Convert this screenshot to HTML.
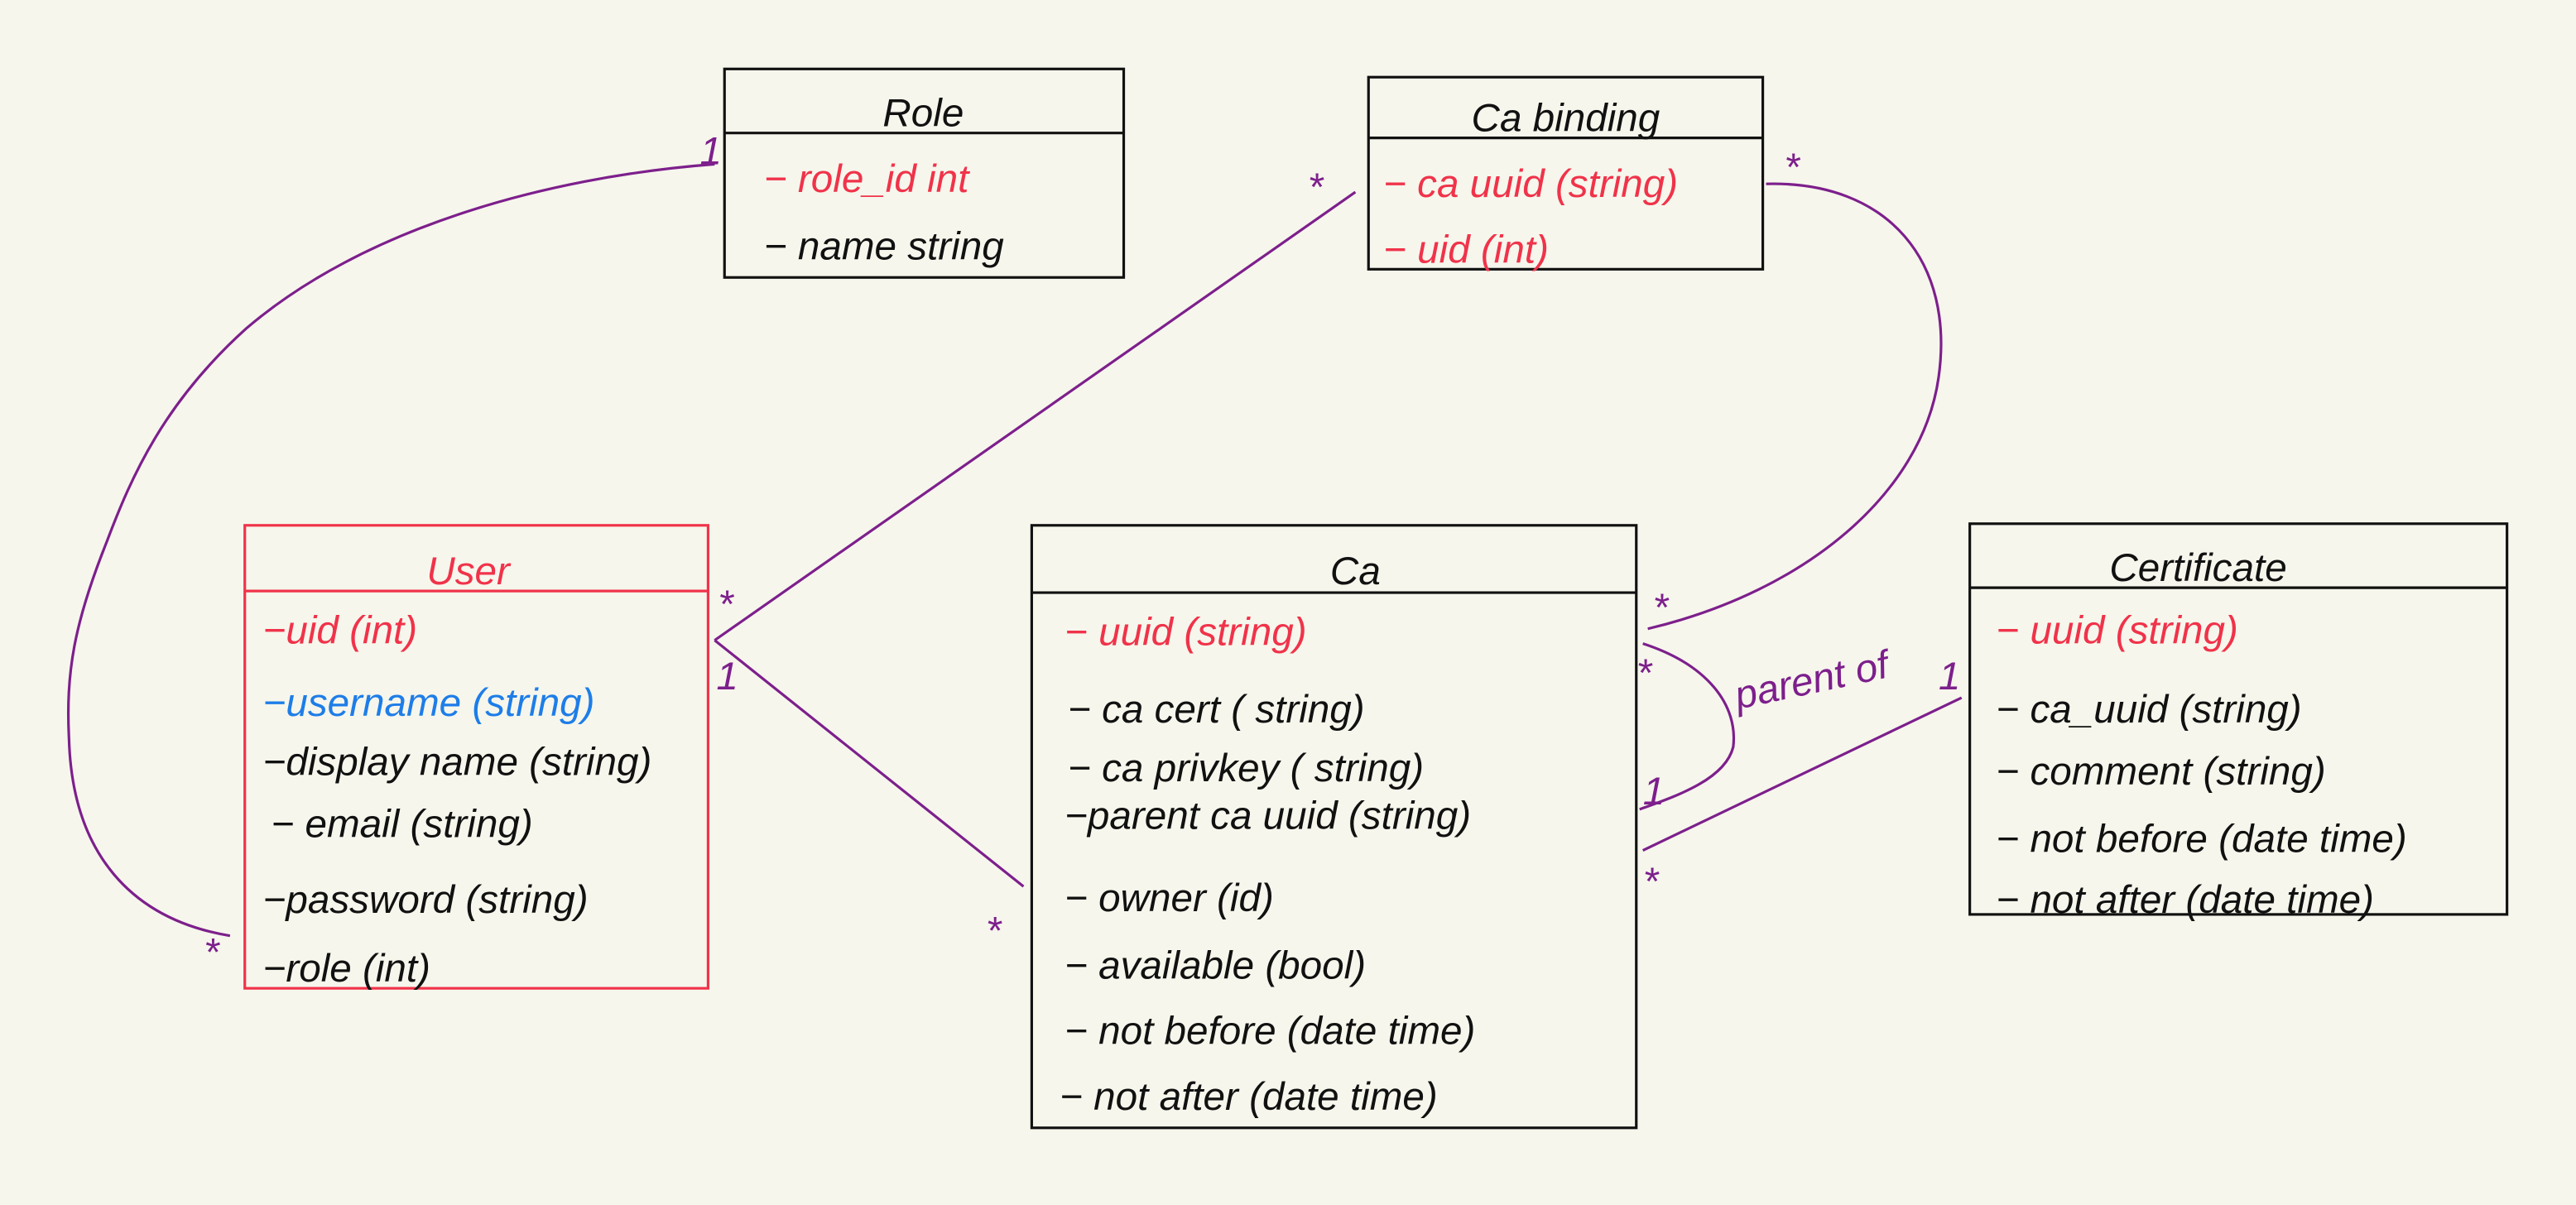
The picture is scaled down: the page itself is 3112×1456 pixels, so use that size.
<!DOCTYPE html>
<html><head><meta charset="utf-8"><style>
html,body{margin:0;padding:0;background:#f6f6ec;}
svg{display:block}
text{font-family:"Liberation Sans",sans-serif;font-style:italic;font-size:24px}
.k{fill:#111}.r{fill:#f0334a}.b{fill:#1e7de8}.p{fill:#7d1f8c}
</style></head><body>
<svg width="3112" height="1456" viewBox="0 0 1568 734" preserveAspectRatio="none" xmlns="http://www.w3.org/2000/svg">
<rect width="1568" height="734" fill="#f6f6ec"/>
<g fill="none" stroke="#111" stroke-width="1.6">
<rect x="441" y="42" width="243" height="127"/><line x1="441" y1="81" x2="684" y2="81"/>
<rect x="833" y="47" width="240" height="117"/><line x1="833" y1="84" x2="1073" y2="84"/>
<rect x="628" y="320" width="368" height="367"/><line x1="628" y1="361" x2="996" y2="361"/>
<rect x="1199" y="319" width="327" height="238"/><line x1="1199" y1="358" x2="1526" y2="358"/>
</g>
<g fill="none" stroke="#f0334a" stroke-width="1.6">
<rect x="149" y="320" width="282" height="282"/><line x1="149" y1="360" x2="431" y2="360"/>
</g>
<g fill="none" stroke="#7d1f8c" stroke-width="1.6">
<path d="M435,100 C330,108 220,140 150,200 C100,245 80,290 65,330 C45,380 40,410 42,450 C44,520 80,560 140,570"/>
<line x1="825" y1="117" x2="435" y2="390"/>
<line x1="435" y1="390" x2="623" y2="540"/>
<path d="M1075,112 C1150,110 1190,160 1180,230 C1170,300 1100,360 1003,383"/>
<path d="M1000,392 C1040,405 1058,430 1055,455 C1050,475 1020,485 998,493"/>
<line x1="1000" y1="518" x2="1194" y2="425"/>
</g>
<text x="562" y="77" text-anchor="middle" class="k" font-size="28">Role</text>
<text x="465" y="117" class="r">− role_id  int</text>
<text x="465" y="158" class="k">− name  string</text>
<text x="953" y="80" text-anchor="middle" class="k" font-size="26">Ca binding</text>
<text x="842" y="120" class="r">− ca uuid (string)</text>
<text x="842" y="160" class="r">− uid   (int)</text>
<text x="285" y="356" text-anchor="middle" class="r" font-size="26">User</text>
<text x="160" y="392" class="r">−uid (int)</text>
<text x="160" y="436" class="b">−username (string)</text>
<text x="160" y="472" class="k">−display name (string)</text>
<text x="165" y="510" class="k">−  email  (string)</text>
<text x="160" y="556" class="k">−password (string)</text>
<text x="160" y="598" class="k">−role   (int)</text>
<text x="825" y="356" text-anchor="middle" class="k" font-size="30">Ca</text>
<text x="648" y="393" class="r">− uuid (string)</text>
<text x="650" y="440" class="k">− ca cert ( string)</text>
<text x="650" y="476" class="k">− ca privkey ( string)</text>
<text x="648" y="505" class="k">−parent ca uuid (string)</text>
<text x="648" y="555" class="k">−  owner  (id)</text>
<text x="648" y="596" class="k">− available   (bool)</text>
<text x="648" y="636" class="k">− not before  (date time)</text>
<text x="645" y="676" class="k">− not after  (date time)</text>
<text x="1338" y="354" text-anchor="middle" class="k" font-size="26">Certificate</text>
<text x="1215" y="392" class="r">− uuid (string)</text>
<text x="1215" y="440" class="k">− ca_uuid (string)</text>
<text x="1215" y="478" class="k">−  comment  (string)</text>
<text x="1215" y="519" class="k" font-size="22">− not before (date time)</text>
<text x="1215" y="556" class="k" font-size="22">− not after  (date time)</text>
<text x="426" y="100" class="p">1</text>
<text x="124" y="588" class="p" font-size="30">*</text>
<text x="796" y="122" class="p" font-size="30">*</text>
<text x="437" y="376" class="p" font-size="30">*</text>
<text x="436" y="420" class="p">1</text>
<text x="600" y="575" class="p" font-size="30">*</text>
<text x="1086" y="110" class="p" font-size="30">*</text>
<text x="1006" y="378" class="p" font-size="30">*</text>
<text x="996" y="418" class="p" font-size="30">*</text>
<text x="1000" y="490" class="p" font-size="16">1</text>
<text x="1058" y="432" class="p" font-size="15" transform="rotate(-12 1058 432)">parent of</text>
<text x="1180" y="420" class="p" font-size="22">1</text>
<text x="1000" y="545" class="p" font-size="30">*</text>
</svg>
</body></html>
